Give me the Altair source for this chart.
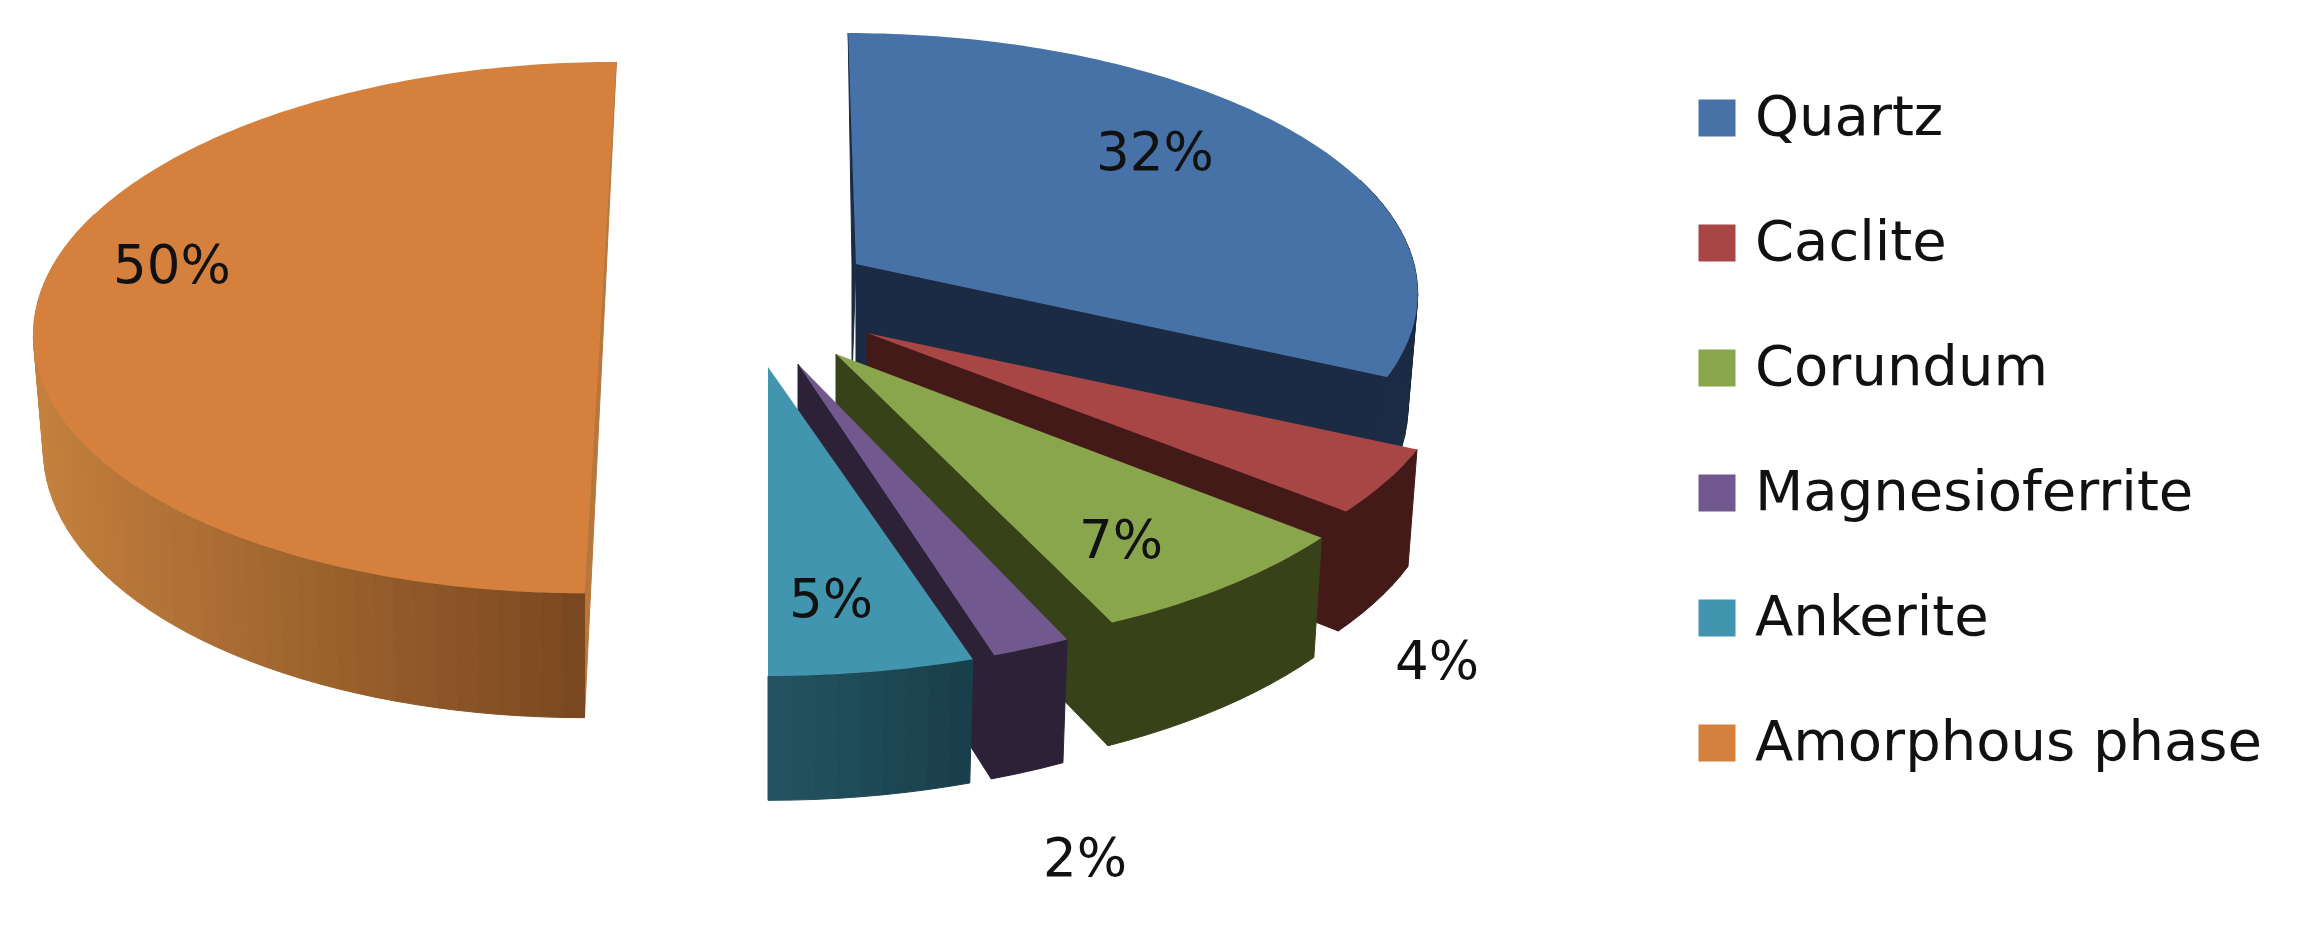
import math
import altair as alt

# ---- values
categories = ["Quartz", "Caclite", "Corundum", "Magnesioferrite", "Ankerite", "Amorphous phase"]
shares = [32, 4, 7, 2, 5, 50]
top_colors = ["#4772A8", "#A74644", "#8AA64D", "#71598F", "#4195AE", "#D6803D"]
wall_colors = ["#1B2B44", "#441A18", "#374219", "#2C2137", "#1A3F4C", "#B8773A"]
side_from = ["#1B2B44", "#441A18", "#374219", "#2C2137", "#245663", "#BC7A3A"]
side_to = ["#1B2B44", "#441A18", "#374219", "#2C2137", "#1A3F4C", "#7A4820"]

# ---- 3-D exploded-pie layout: centre x, centre y, radius x, radius y, lean
centre_x = [856, 867, 836, 798, 768, 602]
centre_y = [264, 333, 354, 364, 367, 301]
radius_x = [558, 582, 590, 575, 600, 564]
radius_y = [254, 262, 270, 277, 278, 263]
lean = [0.034, 0, 0, 0, 0, -0.06]
PERSP = 0.10
DEPTH = 112
INSET = 10

label_x = [1155, 1437, 1121, 1085, 831, 172]
label_y = [154, 663, 542, 860, 601, 267]


def mix(a, b, t):
    ca = [int(a[i:i + 2], 16) for i in (1, 3, 5)]
    cb = [int(b[i:i + 2], 16) for i in (1, 3, 5)]
    return "#%02X%02X%02X" % tuple(round(p + (q - p) * t) for p, q in zip(ca, cb))


def rim(i, deg, bottom=False):
    t = math.radians(deg)
    X, Y = math.sin(t), -math.cos(t)
    s = 1 / (1 - PERSP * Y)
    y = centre_y[i] + radius_y[i] * Y * s
    x = centre_x[i] + radius_x[i] * X * s + lean[i] * (y - centre_y[i])
    if bottom:
        y += DEPTH * s
        x -= INSET * X
    return [x, y]


def feature(points, **props):
    ring = [list(p) for p in points] + [list(points[0])]
    return {"type": "Feature", "properties": props, "geometry": {"type": "Polygon", "coordinates": [ring]}}


def geo(features):
    return alt.Data(values={"type": "FeatureCollection", "features": features},
                    format=alt.DataFormat(property="features", type="json"))


projection = dict(type="identity", scale=1, translate=[-8, -8])
color_scale = alt.Scale(domain=categories, range=top_colors)
legend = alt.Legend(title=None, orient="none", legendX=1681, legendY=82, symbolType="square",
                    symbolSize=1369, symbolStrokeWidth=0, labelFontSize=56, labelFont="DejaVu Sans",
                    labelColor="#111111", labelOffset=10, rowPadding=69, labelLimit=600, padding=0)

layers = []
cum = 0.0
for i, cat in enumerate(categories):
    a0 = cum / sum(shares) * 360
    cum += shares[i]
    a1 = cum / sum(shares) * 360
    feats = []
    # flat far wall
    if i == 5:
        feats.append(feature([rim(i, a1 - 0.001), rim(i, a0), rim(i, a0, True)], fill=wall_colors[i]))
    if i == 0:
        t, c = rim(i, a0), [centre_x[i], centre_y[i]]
        feats.append(feature([t, c, [c[0] - 4, c[1] + DEPTH], [c[0] - 4, c[1]]], fill=wall_colors[i]))
    # cut wall at the closing edge
    if a1 < 180:
        c = [centre_x[i], centre_y[i]]
        feats.append(feature([c, rim(i, a1), rim(i, a1, True), [c[0], c[1] + DEPTH]], fill=wall_colors[i]))
    # rim strips
    lo, hi = max(a0, 70), min(a1, 290)
    n = max(2, int((hi - lo) / 2))
    for k in range(n):
        d0 = lo + (hi - lo) * k / n
        d1 = lo + (hi - lo) * (k + 1) / n
        frac = (rim(i, d0)[0] - rim(i, lo)[0]) / ((rim(i, hi)[0] - rim(i, lo)[0]) or 1)
        shade = mix(side_from[i], side_to[i], 1 - abs(frac))
        feats.append(feature([rim(i, d0), rim(i, d1), rim(i, d1, True), rim(i, d0, True)], fill=shade))
    layers.append(
        alt.Chart(geo(feats)).mark_geoshape(strokeWidth=1).encode(
            fill=alt.Fill("properties.fill:N", scale=None),
            stroke=alt.Stroke("properties.fill:N", scale=None),
        ).project(**projection)
    )
    # flat top of the slice
    steps = max(4, int(a1 - a0))
    arc = [rim(i, a0 + (a1 - a0) * k / steps) for k in range(steps + 1)]
    top = [[centre_x[i], centre_y[i]]] + arc
    layers.append(
        alt.Chart(geo([feature(top, name=cat)])).mark_geoshape(strokeWidth=0).encode(
            color=alt.Color("properties.name:N", scale=color_scale, legend=legend),
        ).project(**projection)
    )

label_rows = [{"lon": x, "lat": y, "text": f"{v}%"} for x, y, v in zip(label_x, label_y, shares)]
labels = alt.Chart(alt.Data(values=label_rows)).mark_text(
    font="DejaVu Sans", fontSize=53, color="#111111", align="center", baseline="middle"
).encode(longitude="lon:Q", latitude="lat:Q", text="text:N").project(**projection)

chart = alt.layer(*layers, labels).properties(
    width=2283, height=913, padding=0, background="white",
    autosize=alt.AutoSizeParams(type="none"),
).configure_view(stroke=None)

chart.save("out.html", embed_options={"renderer": "svg", "actions": False})
